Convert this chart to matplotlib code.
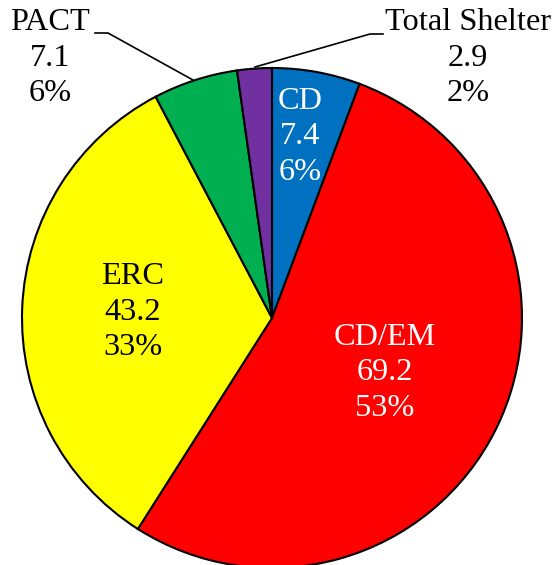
import matplotlib.pyplot as plt

# data
categories = ["CD", "CD/EM", "ERC", "PACT", "Total Shelter"]
values = [7.4, 69.2, 43.2, 7.1, 2.9]
percents = ["6%", "53%", "33%", "6%", "2%"]
colors = ["#0070C0", "#FF0000", "#FFFF00", "#00B050", "#7030A0"]

W, H = 553, 565
fig = plt.figure(figsize=(W / 100, H / 100), dpi=100)
ax = fig.add_axes([0, 0, 1, 1])

cx, cy, r = 272, H - 318, 250
ax.pie(values, colors=colors, startangle=90, counterclock=False,
       center=(cx, cy), radius=r, frame=True,
       wedgeprops=dict(edgecolor="black", linewidth=1.5))
ax.set_xlim(0, W)
ax.set_ylim(0, H)
ax.axis("off")

font = dict(family="Liberation Serif", fontsize=23.3, ha="center", va="center",
            linespacing=1.3)

def lab(i):
    return "{}\n{}\n{}".format(categories[i], values[i], percents[i])

# inside labels (pixel positions of label centres)
ax.text(300, H - 137, lab(0), color="white", **font)
ax.text(385, H - 373, lab(1), color="white", **font)
ax.text(133, H - 312, lab(2), color="black", **font)
# outside labels
ax.text(50, H - 58, lab(3), color="black", **font)
ax.text(468, H - 58, lab(4), color="black", **font)

# leader lines
ax.plot([95, 108, 193], [H - 33, H - 33, H - 80], color="black", lw=1.2)
ax.plot([383, 370, 255], [H - 34, H - 34, H - 67], color="black", lw=1.2)

fig.savefig("out.png", dpi=100)
